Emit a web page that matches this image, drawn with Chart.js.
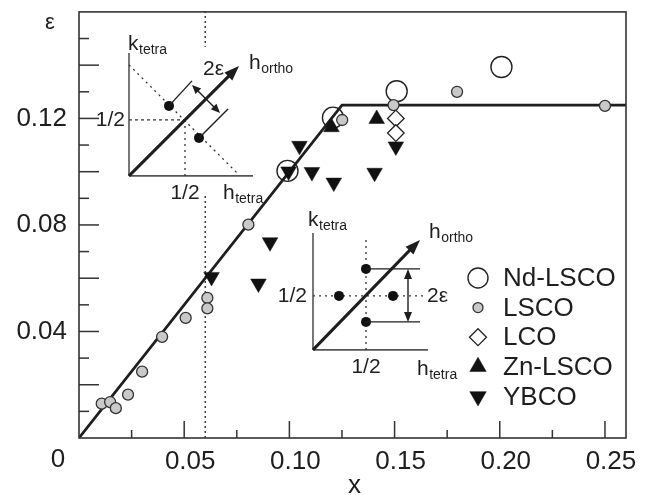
<!DOCTYPE html>
<html>
<head>
<meta charset="utf-8">
<script src="https://cdn.jsdelivr.net/npm/chart.js@4.4.1/dist/chart.umd.min.js"></script>
<style>
  html, body { margin: 0; padding: 0; background: #fff; }
</style>
</head>
<body>
<canvas id="chart" width="650" height="495"></canvas>
<script>
// values (x = doping, y = incommensurability eps)
const ndX = [0.0991, 0.1207, 0.151, 0.2008];
const ndY = [0.1003, 0.1203, 0.1302, 0.1393];

const lscoX = [0.0108, 0.0148, 0.0175, 0.0233, 0.030, 0.0395, 0.0507, 0.061, 0.061, 0.0805, 0.1251, 0.1495, 0.1797, 0.250];
const lscoY = [0.0129, 0.0135, 0.0112, 0.0163, 0.0249, 0.038, 0.0451, 0.0526, 0.0487, 0.0801, 0.1194, 0.125, 0.130, 0.1247];

const lcoX = [0.1506, 0.1506];
const lcoY = [0.120, 0.1145];

const znX = [0.120, 0.1415];
const znY = [0.1167, 0.1198];

const ybcoX = [0.063, 0.0853, 0.0908, 0.0996, 0.1048, 0.1107, 0.1211, 0.1405, 0.1506];
const ybcoY = [0.0605, 0.058, 0.0735, 0.1001, 0.1097, 0.0999, 0.0959, 0.0996, 0.1095];

// eps = x line with saturation, and the dotted 1/16 guide
const fitX = [0, 0.125, 0.26];
const fitY = [0, 0.125, 0.125];
const guideX = [0.06, 0.06];
const guideY = [0, 0.16];

// axis ticks
const xMajor = [0.05, 0.10, 0.15, 0.20, 0.25];
const xMinor = [0.025, 0.075, 0.125, 0.175, 0.225];
const yMajor = [0.02, 0.04, 0.06, 0.08, 0.10, 0.12, 0.14];
const yMinor = [0.01, 0.03, 0.05, 0.07, 0.09, 0.11, 0.13, 0.15];
const yLabels = [0.04, 0.08, 0.12];

const FONT = '"Liberation Sans", Arial, Helvetica, sans-serif';
const INK = '#1e1e1e';

const pts = (xs, ys) => xs.map((x, i) => ({ x, y: ys[i] }));

// small drawing helpers for the insets
function seg(ctx, x1, y1, x2, y2, w, color, dash) {
  ctx.save();
  ctx.strokeStyle = color;
  ctx.lineWidth = w;
  ctx.setLineDash(dash || []);
  ctx.beginPath();
  ctx.moveTo(x1, y1);
  ctx.lineTo(x2, y2);
  ctx.stroke();
  ctx.restore();
}

function head(ctx, x1, y1, x2, y2, len, half) {
  const a = Math.atan2(y2 - y1, x2 - x1);
  ctx.save();
  ctx.fillStyle = INK;
  ctx.beginPath();
  ctx.moveTo(x2, y2);
  ctx.lineTo(x2 - len * Math.cos(a) + half * Math.sin(a), y2 - len * Math.sin(a) - half * Math.cos(a));
  ctx.lineTo(x2 - len * Math.cos(a) - half * Math.sin(a), y2 - len * Math.sin(a) + half * Math.cos(a));
  ctx.closePath();
  ctx.fill();
  ctx.restore();
}

function dot(ctx, x, y) {
  ctx.save();
  ctx.fillStyle = '#111';
  ctx.beginPath();
  ctx.arc(x, y, 5, 0, Math.PI * 2);
  ctx.fill();
  ctx.restore();
}

function txt(ctx, s, x, y, size, align, base) {
  ctx.save();
  ctx.fillStyle = INK;
  ctx.font = size + 'px ' + FONT;
  ctx.textAlign = align || 'left';
  ctx.textBaseline = base || 'alphabetic';
  ctx.fillText(s, x, y);
  ctx.restore();
}

// letter with a small subscript, e.g. k_tetra
function subLabel(ctx, main, sub, x, y) {
  txt(ctx, main, x, y, 21);
  ctx.save();
  ctx.font = '21px ' + FONT;
  const w = ctx.measureText(main).width;
  ctx.restore();
  txt(ctx, sub, x + w + 0.5, y + 4, 14);
}

// upper-left inset: diagonal incommensurate peaks
function drawInsetDiag(ctx, ox, oy) {
  ctx.save();
  ctx.fillStyle = '#fff';
  ctx.fillRect(ox + 62, oy - 129, 30, 146);
  ctx.restore();

  seg(ctx, ox, oy, ox, oy - 123, 1.6, '#555');
  seg(ctx, ox, oy, ox + 124, oy, 1.6, '#555');
  seg(ctx, ox, oy - 111, ox + 109, oy - 2, 1.3, '#333', [2, 4]);
  seg(ctx, ox, oy - 56, ox + 56, oy - 56, 1.3, '#333', [3, 3]);
  seg(ctx, ox + 56, oy - 56, ox + 56, oy, 1.3, '#333', [2, 4]);

  seg(ctx, ox, oy, ox + 103, oy - 103, 3, INK);
  head(ctx, ox, oy, ox + 110, oy - 110, 15, 5.5);

  dot(ctx, ox + 40, oy - 70);
  dot(ctx, ox + 70, oy - 38);
  seg(ctx, ox + 40, oy - 70, ox + 63, oy - 95, 1.4, INK);
  seg(ctx, ox + 70, oy - 38, ox + 99, oy - 67, 1.4, INK);
  seg(ctx, ox + 67, oy - 87, ox + 87, oy - 67, 1.4, INK);
  head(ctx, ox + 77, oy - 77, ox + 63, oy - 91, 9, 4);
  head(ctx, ox + 77, oy - 77, ox + 91, oy - 63, 9, 4);

  subLabel(ctx, 'k', 'tetra', ox - 1, oy - 126);
  subLabel(ctx, 'h', 'ortho', ox + 120, oy - 107);
  txt(ctx, '2\u03b5', ox + 74, oy - 101, 21);
  txt(ctx, '1/2', ox - 4, oy - 56, 21, 'right', 'middle');
  txt(ctx, '1/2', ox + 56, oy + 23, 21, 'center');
  subLabel(ctx, 'h', 'tetra', ox + 94, oy + 23);
}

// lower inset: parallel (stripe) peaks
function drawInsetPar(ctx, ox, oy) {
  seg(ctx, ox, oy, ox, oy - 117, 1.6, '#555');
  seg(ctx, ox, oy, ox + 115, oy, 1.6, '#555');
  seg(ctx, ox + 53, oy - 110, ox + 53, oy, 1.3, '#333', [2, 4]);
  seg(ctx, ox, oy - 54, ox + 110, oy - 54, 1.3, '#333', [2, 4]);

  seg(ctx, ox, oy, ox + 100, oy - 103, 3, INK);
  head(ctx, ox, oy, ox + 107, oy - 110, 15, 5.5);

  dot(ctx, ox + 53, oy - 81);
  dot(ctx, ox + 26, oy - 54);
  dot(ctx, ox + 80, oy - 54);
  dot(ctx, ox + 53, oy - 28);
  seg(ctx, ox + 53, oy - 81, ox + 107, oy - 81, 1.4, INK);
  seg(ctx, ox + 53, oy - 28, ox + 107, oy - 28, 1.4, INK);
  seg(ctx, ox + 95, oy - 76, ox + 95, oy - 33, 1.4, INK);
  head(ctx, ox + 95, oy - 54, ox + 95, oy - 81, 10, 4);
  head(ctx, ox + 95, oy - 54, ox + 95, oy - 28, 10, 4);

  subLabel(ctx, 'k', 'tetra', ox - 5, oy - 124);
  subLabel(ctx, 'h', 'ortho', ox + 116, oy - 112);
  txt(ctx, '2\u03b5', ox + 114, oy - 54, 21, 'left', 'middle');
  txt(ctx, '1/2', ox - 6, oy - 54, 21, 'right', 'middle');
  txt(ctx, '1/2', ox + 53, oy + 17, 21, 'center', 'middle');
  subLabel(ctx, 'h', 'tetra', ox + 104, oy + 25);
}

const decor = {
  id: 'decor',
  afterDatasetsDraw(chart) {
    const ctx = chart.ctx;
    const ca = chart.chartArea;
    drawInsetDiag(ctx, ca.left + 50, ca.top + 164);
    drawInsetPar(ctx, ca.left + 234, ca.top + 338);
  },
  afterDraw(chart) {
    const ctx = chart.ctx;
    const ca = chart.chartArea;
    const xs = chart.scales.x;
    const ys = chart.scales.y;

    // frame
    ctx.save();
    ctx.strokeStyle = '#333';
    ctx.lineWidth = 1.6;
    ctx.strokeRect(ca.left, ca.top, ca.right - ca.left, ca.bottom - ca.top);
    ctx.restore();

    // inward ticks
    xMajor.forEach(v => { const p = xs.getPixelForValue(v); seg(ctx, p, ca.bottom, p, ca.bottom - 17, 1.5, '#333'); });
    xMinor.forEach(v => { const p = xs.getPixelForValue(v); seg(ctx, p, ca.bottom, p, ca.bottom - 8, 1.5, '#333'); });
    yMajor.forEach(v => { const p = ys.getPixelForValue(v); seg(ctx, ca.left, p, ca.left + 20, p, 1.5, '#333'); });
    yMinor.forEach(v => { const p = ys.getPixelForValue(v); seg(ctx, ca.left, p, ca.left + 10, p, 1.5, '#333'); });

    // origin label and axis titles
    txt(ctx, '0', ca.left - 21, ca.bottom + 22, 26, 'center', 'middle');
    txt(ctx, 'x', (ca.left + ca.right) / 2 + 2, 493, 26, 'center');
    txt(ctx, '\u03b5', 50, 29, 22, 'center');

    // legend inside the plot
    const lx = ca.right - 148;
    let ly = 278;
    chart.data.datasets.filter(d => d.label).forEach(d => {
      ctx.save();
      ctx.fillStyle = d.backgroundColor;
      ctx.strokeStyle = d.borderColor;
      ctx.lineWidth = d.borderWidth;
      Chart.helpers.drawPoint(ctx, {
        pointStyle: d.pointStyle,
        rotation: d.rotation || 0,
        radius: d.legendRadius || d.pointRadius,
        borderWidth: d.borderWidth
      }, lx, ly);
      ctx.restore();
      txt(ctx, d.label, lx + 25, ly + 1, 26, 'left', 'middle');
      ly += 29.6;
    });
  }
};

new Chart(document.getElementById('chart'), {
  type: 'scatter',
  data: {
    datasets: [
      { data: pts(guideX, guideY), showLine: true, borderColor: '#222', borderWidth: 1.3, borderDash: [2, 3], pointRadius: 0, order: 10 },
      { data: pts(fitX, fitY), showLine: true, borderColor: INK, borderWidth: 2.7, pointRadius: 0, order: 5 },
      { label: 'Nd-LSCO', data: pts(ndX, ndY), pointStyle: 'circle', pointRadius: 10.5, legendRadius: 10, backgroundColor: 'rgba(255,255,255,0)', borderColor: '#222', borderWidth: 1.4, order: 6 },
      { label: 'LSCO', data: pts(lscoX, lscoY), pointStyle: 'circle', pointRadius: 5.5, legendRadius: 5, backgroundColor: '#c9c9c9', borderColor: '#333', borderWidth: 1.3, order: 1 },
      { label: 'LCO', data: pts(lcoX, lcoY), pointStyle: 'rectRot', pointRadius: 8.3, legendRadius: 8.5, backgroundColor: '#fff', borderColor: '#222', borderWidth: 1.3, order: 2 },
      { label: 'Zn-LSCO', data: pts(znX, znY), pointStyle: 'triangle', pointRadius: 9, legendRadius: 9.5, backgroundColor: '#111', borderColor: '#111', borderWidth: 0.5, order: 3 },
      { label: 'YBCO', data: pts(ybcoX, ybcoY), pointStyle: 'triangle', rotation: 180, pointRadius: 9, legendRadius: 9.5, backgroundColor: '#111', borderColor: '#111', borderWidth: 0.5, order: 3 }
    ]
  },
  options: {
    responsive: false,
    animation: false,
    devicePixelRatio: 1,
    layout: { padding: { top: 9, right: 24, left: 0, bottom: 0 } },
    plugins: { legend: { display: false }, tooltip: { enabled: false } },
    scales: {
      x: {
        type: 'linear', min: 0, max: 0.26,
        grid: { display: false, drawTicks: false },
        border: { display: false },
        afterBuildTicks: s => { s.ticks = xMajor.map(v => ({ value: v })); },
        afterFit: s => { s.height = 57; s.paddingLeft = 0; s.paddingRight = 0; },
        ticks: { color: INK, padding: 8, labelOffset: 6, font: { family: FONT, size: 26 }, callback: v => v.toFixed(2) }
      },
      y: {
        type: 'linear', min: 0, max: 0.16,
        grid: { display: false, drawTicks: false },
        border: { display: false },
        afterBuildTicks: s => { s.ticks = yLabels.map(v => ({ value: v })); },
        afterFit: s => { s.width = 79; s.paddingTop = 0; s.paddingBottom = 0; },
        ticks: { color: INK, padding: 12, font: { family: FONT, size: 26 }, callback: v => v.toFixed(2) }
      }
    }
  },
  plugins: [decor]
});
</script>
</body>
</html>
